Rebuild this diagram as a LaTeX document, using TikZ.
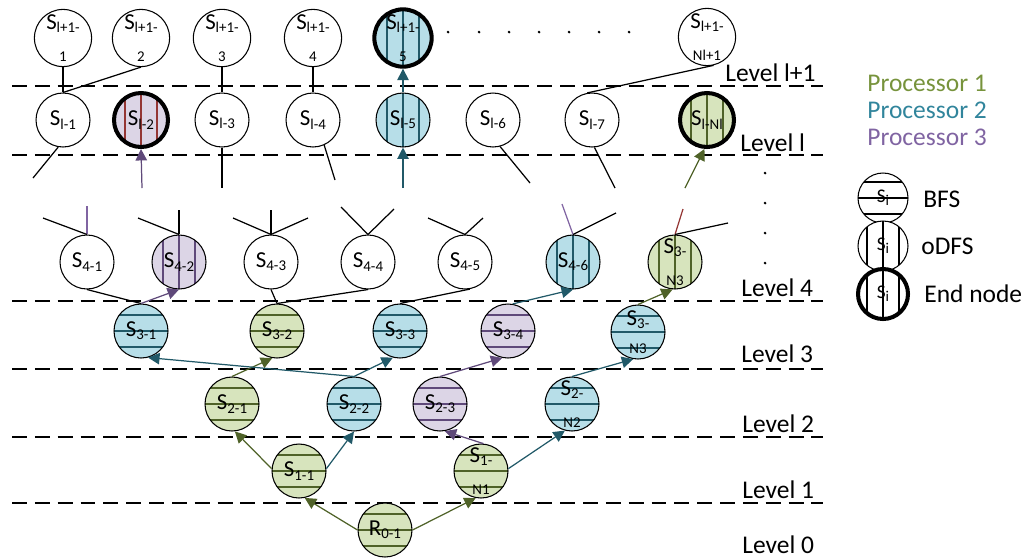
\documentclass[tikz,border=0pt]{standalone}
\usepackage{fontspec}
\setmainfont{Carlito}
\usetikzlibrary{arrows.meta,shapes,calc}

\definecolor{grfill}{HTML}{D7E4BD}
\definecolor{grline}{HTML}{4F6228}
\definecolor{blfill}{HTML}{B7DEE8}
\definecolor{blline}{HTML}{215968}
\definecolor{pufill}{HTML}{DCD5E6}
\definecolor{puline}{HTML}{5F497A}
\definecolor{pulight}{HTML}{8064A2}
\definecolor{rdline}{HTML}{943634}
\definecolor{proca}{HTML}{77933C}
\definecolor{procb}{HTML}{31859C}
\definecolor{procc}{HTML}{8064A2}

\newcommand{\sbs}[1]{\raisebox{-1.8pt}{\fontsize{8.5}{9}\selectfont #1}}
\newcommand{\twolab}[3][4pt]{S\sbs{#2}\\[#1]{\fontsize{8.5}{9}\selectfont #3}}

\tikzset{
  st/.style={circle, draw, line width=0.6pt, minimum size=1.08cm, inner sep=0pt,
    align=center, font=\fontsize{13}{14}\selectfont},
  endst/.style={line width=2.3pt},
  grn/.style={fill=grfill},
  blu/.style={fill=blfill},
  pur/.style={fill=pufill},
  hl/.style={path picture={\foreach \hh in {-16,0,16}{
    \draw[line width=1.3pt,#1] ($(path picture bounding box.center)+(-30,\hh)$) -- +(60,0);}}},
  vl/.style={path picture={\foreach \hh in {-16,0,16}{
    \draw[line width=1.3pt,#1] ($(path picture bounding box.center)+(\hh,-30)$) -- +(0,60);}}},
  conn/.style={line width=0.7pt},
  garr/.style={conn, grline, -{Triangle[length=6.5pt,width=6.5pt]}},
  barr/.style={conn, blline, -{Triangle[length=6.5pt,width=6.5pt]}},
  parr/.style={conn, puline, -{Triangle[length=6.5pt,width=6.5pt]}},
  levline/.style={line width=1.1pt, dash pattern=on 8.5pt off 4.5pt},
  levtxt/.style={anchor=west, inner sep=0pt, font=\fontsize{14.5}{16}\selectfont},
  legst/.style={st, minimum size=1cm, fill=white, font=\fontsize{11}{12}\selectfont}
}

\begin{document}
\begin{tikzpicture}[x=0.02cm, y=-0.02cm]
\useasboundingbox (0,0) rectangle (1027,559);

% level lines
\draw[levline] (12,86) -- (823,86);
\draw[levline] (12,155) -- (823,155);
\draw[levline] (12,301) -- (823,301);
\draw[levline] (12,369) -- (823,369);
\draw[levline] (12,437) -- (823,437);
\draw[levline] (12,503) -- (823,503);

\node[levtxt] (lvA) at (725,73) {Level l+1};
\node[levtxt] (lvB) at (740,143) {Level l};
\node[levtxt] (lvC) at (741,288) {Level 4};
\node[levtxt] (lvD) at (741,354) {Level 3};
\node[levtxt] (lvE) at (742,424) {Level 2};
\node[levtxt] (lvF) at (742,490) {Level 1};
\node[levtxt] (lvG) at (742,545) {Level 0};

% dots
\fill (448,32) circle (0.85pt) (479,32) circle (0.85pt) (509,32) circle (0.85pt)
  (539,32) circle (0.85pt) (569,32) circle (0.85pt) (599,32) circle (0.85pt) (629,32) circle (0.85pt);
\fill (765,173) circle (0.85pt) (765,203) circle (0.85pt) (765,233) circle (0.85pt) (765,263) circle (0.85pt);

% level l+1
\node[st] (a1) at (63,38) {\twolab{l+1-}{1}};
\node[st] (a2) at (141,38) {\twolab{l+1-}{2}};
\node[st] (a3) at (222,38) {\twolab{l+1-}{3}};
\node[st] (a4) at (313,38) {\twolab{l+1-}{4}};
\node[st,blu,vl=blline,endst] (a5) at (403,38) {\twolab{l+1-}{5}};
\node[st] (aN) at (707,37) {\twolab{l+1-}{Nl+1}};

% level l
\node[st] (b1) at (63,120) {S\sbs{l-1}};
\node[st,pur,vl=rdline,endst] (b2) at (141,120) {S\sbs{l-2}};
\node[st] (b3) at (222,120) {S\sbs{l-3}};
\node[st] (b4) at (313,120) {S\sbs{l-4}};
\node[st,blu,vl=blline] (b5) at (403,120) {S\sbs{l-5}};
\node[st] (b6) at (493,120) {S\sbs{l-6}};
\node[st] (b7) at (592,120) {S\sbs{l-7}};
\node[st,grn,vl=grline,endst] (bN) at (707,120) {S\sbs{l-Nl}};

% level 4
\node[st] (c1) at (87,262) {S\sbs{4-1}};
\node[st,pur,vl=puline] (c2) at (179,262) {S\sbs{4-2}};
\node[st] (c3) at (271,262) {S\sbs{4-3}};
\node[st] (c4) at (368,262) {S\sbs{4-4}};
\node[st] (c5) at (465,262) {S\sbs{4-5}};
\node[st,blu,vl=blline] (c6) at (573,262) {S\sbs{4-6}};
\node[st,grn,vl=grline] (cN) at (675,262) {\twolab{3-}{N3}};

% level 3
\node[st,blu,hl=blline] (d1) at (141,331) {S\sbs{3-1}};
\node[st,grn,hl=grline] (d2) at (277,331) {S\sbs{3-2}};
\node[st,blu,hl=blline] (d3) at (400,331) {S\sbs{3-3}};
\node[st,pur,hl=puline] (d4) at (508,331) {S\sbs{3-4}};
\node[st,blu,hl=blline] (dN) at (638,332) {\twolab[2pt]{3-}{N3}};

% level 2
\node[st,grn,hl=grline] (e1) at (232,404) {S\sbs{2-1}};
\node[st,blu,hl=blline] (e2) at (354,404) {S\sbs{2-2}};
\node[st,pur,hl=puline] (e3) at (440,404) {S\sbs{2-3}};
\node[st,blu,hl=blline] (eN) at (572,404) {\twolab{2-}{N2}};

% level 1 and 0
\node[st,grn,hl=grline] (f1) at (299,471) {S\sbs{1-1}};
\node[st,grn,hl=grline] (fN) at (481,471) {\twolab{1-}{N1}};
\node[st,grn,hl=grline] (r01) at (385,530) {R\sbs{0-1}};

% loose ends
\coordinate (u1) at (33,178);
\coordinate (u2) at (142,188);
\coordinate (u3) at (222,188);
\coordinate (u4) at (335,180);
\coordinate (u5) at (403,188);
\coordinate (u6) at (530,183);
\coordinate (u7) at (615,188);
\coordinate (u8) at (685,188);
\coordinate (v1a) at (87,206);
\coordinate (v1b) at (43,218);
\coordinate (v2a) at (179,210);
\coordinate (v2b) at (138,218);
\coordinate (v3a) at (271,210);
\coordinate (v3b) at (233,218);
\coordinate (v3c) at (308,218);
\coordinate (v4a) at (341,207);
\coordinate (v4b) at (394,209);
\coordinate (v5a) at (428,218);
\coordinate (v5b) at (483,218);
\coordinate (v6a) at (562,204);
\coordinate (v6b) at (616,213);
\coordinate (v7a) at (683,209);
\coordinate (v7b) at (728,223);

% level l -> l+1
\draw[conn] (a1.south) -- (b1.north);
\draw[conn] (a2.south) -- (b1.north);
\draw[conn] (a3.south) -- (b3.north);
\draw[conn] (a4.south) -- (b4.north);
\draw[barr] (b5.north) -- (a5.south);
\draw[conn] (b7.100) -- (aN.-77);

% below level l
\draw[conn] (b1.-100) -- (u1);
\draw[parr] (u2) -- (b2.south);
\draw[conn] (b3.south) -- (u3);
\draw[conn] (b4.-66) -- (u4);
\draw[barr] (u5) -- (b5.south);
\draw[conn] (b6.-75) -- (u6);
\draw[conn] (b7.-85) -- (u7);
\draw[garr] (u8) -- (bN.-95);

% above level 4
\draw[conn, pulight] (c1.north) -- (v1a);
\draw[conn] (c1.north) -- (v1b);
\draw[conn] (c2.north) -- (v2a);
\draw[conn] (c2.north) -- (v2b);
\draw[conn] (c3.north) -- (v3a);
\draw[conn] (c3.north) -- (v3b);
\draw[conn] (c3.north) -- (v3c);
\draw[conn] (c4.north) -- (v4a);
\draw[conn] (c4.north) -- (v4b);
\draw[conn] (c5.north) -- (v5a);
\draw[conn] (c5.north) -- (v5b);
\draw[conn, pulight] (c6.north) -- (v6a);
\draw[conn] (c6.north) -- (v6b);
\draw[conn, rdline] (cN.north) -- (v7a);
\draw[conn] (cN.north) -- (v7b);

% level 3 -> 4
\draw[conn] (d1.north) -- (c1.south);
\draw[parr] (d1.north) -- (c2.south);
\draw[conn] (d2.north) -- (c3.south);
\draw[conn] (d2.north) -- (c4.south);
\draw[conn] (d3.north) -- (c5.-80);
\draw[barr] (d4.80) -- (c6.south);
\draw[garr] (dN.north) -- (cN.-95);

% level 2 -> 3
\draw[garr] (e1.north) -- (d2.-100);
\draw[barr] (e2.north) -- (d1.-75);
\draw[barr] (e2.north) -- (d3.-105);
\draw[parr] (e3.north) -- (d4.-102);
\draw[barr] (eN.north) -- (dN.-100);

% level 1 -> 2
\draw[garr] (f1.175) -- (e1.-84);
\draw[barr] (f1.5) -- (e2.south);
\draw[parr] (fN.85) -- (e3.-80);
\draw[barr] (fN.5) -- (eN.-105);

% level 0 -> 1
\draw[garr] (r01.west) -- (f1.-78);
\draw[garr] (r01.east) -- (fN.-101);

% legend
\node[levtxt, text=proca] (pA) at (867,83) {Processor 1};
\node[levtxt, text=procb] (pB) at (867,110) {Processor 2};
\node[levtxt, text=procc] (pC) at (867,137) {Processor 3};

\node[legst, hl={black,line width=0.6pt}] (kA) at (883,198) {S\sbs{i}};
\node[legst, vl={black,line width=0.6pt}] (kB) at (883,246) {S\sbs{i}};
\node[legst, vl={black,line width=0.6pt}, endst] (kC) at (883,294) {S\sbs{i}};
\node[levtxt] (tA) at (923,199) {BFS};
\node[levtxt] (tB) at (921,246) {oDFS};
\node[levtxt] (tC) at (924,294) {End node};
\end{tikzpicture}
\end{document}
